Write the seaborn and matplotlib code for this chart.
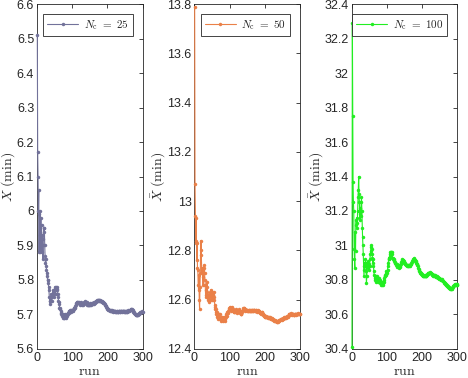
import numpy as np
import pandas as pd
import matplotlib
matplotlib.use("Agg")
import matplotlib.pyplot as plt
import seaborn as sns

# Running mean of completion time per run
xbar_25 = [
    6.51, 6.17, 6.10, 6.00, 6.06, 5.88, 5.99, 5.93, 6.00, 5.88,
    5.98, 5.92, 5.96, 5.88, 5.93, 5.90, 5.86, 5.92, 5.95, 5.94,
    5.95, 5.90, 5.87, 5.85, 5.86, 5.84, 5.83, 5.82, 5.81, 5.80,
    5.80, 5.79, 5.78, 5.77, 5.75, 5.74, 5.73, 5.74, 5.75, 5.76,
    5.75, 5.74, 5.76, 5.75, 5.77, 5.76, 5.75, 5.77, 5.76, 5.77,
    5.78, 5.77, 5.76, 5.78, 5.775, 5.78, 5.77, 5.775, 5.76, 5.75,
    5.74, 5.735, 5.73, 5.72, 5.72, 5.715, 5.71, 5.705, 5.70, 5.70,
    5.70, 5.695, 5.70, 5.69, 5.695, 5.69, 5.695, 5.69, 5.695, 5.70,
    5.695, 5.69, 5.695, 5.70, 5.695, 5.70, 5.705, 5.70, 5.705, 5.71,
    5.705, 5.71, 5.708, 5.712, 5.71, 5.708, 5.712, 5.71, 5.714, 5.712,
    5.71, 5.714, 5.712, 5.716, 5.72, 5.718, 5.722, 5.72, 5.725, 5.728,
    5.73, 5.733, 5.735, 5.732, 5.736, 5.734, 5.737, 5.735, 5.732, 5.734,
    5.73, 5.728, 5.732, 5.73, 5.733, 5.735, 5.731, 5.728, 5.73, 5.732,
    5.73, 5.728, 5.73, 5.733, 5.736, 5.738, 5.735, 5.737, 5.734, 5.732,
    5.735, 5.73, 5.728, 5.726, 5.728, 5.73, 5.728, 5.726, 5.73, 5.728,
    5.73, 5.732, 5.73, 5.728, 5.73, 5.732, 5.734, 5.73, 5.732, 5.733,
    5.731, 5.733, 5.735, 5.734, 5.736, 5.735, 5.737, 5.738, 5.74, 5.739,
    5.741, 5.742, 5.74, 5.743, 5.741, 5.74, 5.742, 5.741, 5.739, 5.74,
    5.738, 5.74, 5.739, 5.737, 5.738, 5.736, 5.737, 5.735, 5.733, 5.734,
    5.732, 5.73, 5.728, 5.727, 5.725, 5.723, 5.722, 5.72, 5.718, 5.717,
    5.716, 5.715, 5.714, 5.713, 5.714, 5.712, 5.713, 5.711, 5.712, 5.71,
    5.711, 5.712, 5.71, 5.709, 5.71, 5.708, 5.709, 5.71, 5.711, 5.709,
    5.708, 5.71, 5.709, 5.707, 5.708, 5.709, 5.71, 5.708, 5.706, 5.707,
    5.708, 5.71, 5.711, 5.709, 5.71, 5.708, 5.707, 5.709, 5.71, 5.711,
    5.71, 5.708, 5.709, 5.711, 5.71, 5.709, 5.708, 5.71, 5.709, 5.708,
    5.707, 5.709, 5.71, 5.708, 5.707, 5.708, 5.71, 5.709, 5.711, 5.712,
    5.71, 5.711, 5.713, 5.714, 5.713, 5.715, 5.714, 5.716, 5.715, 5.713,
    5.714, 5.712, 5.71, 5.708, 5.706, 5.704, 5.703, 5.702, 5.70, 5.699,
    5.698, 5.70, 5.699, 5.697, 5.698, 5.70, 5.699, 5.701, 5.70, 5.702,
    5.703, 5.704, 5.706, 5.705, 5.707, 5.706, 5.708, 5.707, 5.709, 5.708,
]

xbar_50 = [
    13.79, 13.07, 12.94, 12.83, 12.93, 12.84, 12.76, 12.83, 12.73, 12.72,
    12.66, 12.64, 12.70, 12.60, 12.56, 12.65, 12.71, 12.80, 12.84, 12.78,
    12.72, 12.71, 12.73, 12.69, 12.66, 12.72, 12.73, 12.74, 12.71, 12.68,
    12.66, 12.62, 12.64, 12.61, 12.63, 12.67, 12.65, 12.62, 12.60, 12.62,
    12.61, 12.59, 12.62, 12.60, 12.63, 12.62, 12.64, 12.62, 12.60, 12.61,
    12.63, 12.62, 12.60, 12.62, 12.63, 12.61, 12.60, 12.58, 12.57, 12.56,
    12.55, 12.56, 12.54, 12.53, 12.55, 12.54, 12.53, 12.52, 12.53, 12.54,
    12.53, 12.52, 12.53, 12.54, 12.52, 12.53, 12.515, 12.52, 12.53, 12.52,
    12.515, 12.52, 12.53, 12.525, 12.52, 12.515, 12.52, 12.525, 12.53, 12.535,
    12.54, 12.535, 12.545, 12.55, 12.545, 12.55, 12.555, 12.56, 12.565, 12.57,
    12.568, 12.565, 12.56, 12.555, 12.56, 12.565, 12.57, 12.567, 12.562, 12.558,
    12.555, 12.552, 12.55, 12.548, 12.55, 12.553, 12.556, 12.56, 12.558, 12.555,
    12.55, 12.545, 12.548, 12.552, 12.555, 12.558, 12.56, 12.556, 12.552, 12.548,
    12.545, 12.542, 12.54, 12.543, 12.548, 12.552, 12.556, 12.56, 12.565, 12.568,
    12.566, 12.563, 12.56, 12.557, 12.555, 12.556, 12.558, 12.556, 12.554, 12.556,
    12.557, 12.555, 12.553, 12.555, 12.557, 12.559, 12.557, 12.555, 12.553, 12.552,
    12.554, 12.556, 12.558, 12.556, 12.554, 12.552, 12.555, 12.557, 12.559, 12.558,
    12.556, 12.554, 12.553, 12.555, 12.557, 12.556, 12.554, 12.552, 12.551, 12.553,
    12.555, 12.556, 12.554, 12.552, 12.55, 12.548, 12.546, 12.545, 12.544, 12.543,
    12.55, 12.548, 12.545, 12.543, 12.54, 12.538, 12.536, 12.534, 12.532, 12.53,
    12.532, 12.53, 12.528, 12.53, 12.532, 12.53, 12.528, 12.527, 12.528, 12.53,
    12.529, 12.527, 12.525, 12.526, 12.528, 12.527, 12.525, 12.523, 12.522, 12.524,
    12.522, 12.52, 12.518, 12.52, 12.519, 12.517, 12.515, 12.516, 12.514, 12.513,
    12.512, 12.514, 12.513, 12.511, 12.51, 12.512, 12.511, 12.513, 12.515, 12.514,
    12.516, 12.518, 12.517, 12.519, 12.521, 12.52, 12.522, 12.52, 12.518, 12.52,
    12.522, 12.525, 12.523, 12.526, 12.528, 12.527, 12.529, 12.527, 12.525, 12.527,
    12.53, 12.532, 12.53, 12.528, 12.53, 12.533, 12.535, 12.538, 12.54, 12.542,
    12.54, 12.538, 12.54, 12.543, 12.545, 12.543, 12.54, 12.538, 12.54, 12.542,
    12.54, 12.538, 12.536, 12.538, 12.54, 12.542, 12.541, 12.539, 12.54, 12.542,
    12.543, 12.541, 12.54, 12.542, 12.544, 12.543, 12.541, 12.542, 12.54, 12.541,
]

xbar_100 = [
    30.41, 32.29, 31.75, 31.37, 31.25, 31.20, 30.98, 30.92, 30.87, 31.08,
    30.97, 31.12, 31.15, 31.10, 31.16, 31.13, 31.20, 31.28, 31.32, 31.40,
    31.30, 31.25, 31.18, 31.15, 31.22, 31.17, 31.25, 31.28, 31.20, 31.10,
    31.05, 31.00, 30.95, 30.88, 30.82, 30.86, 30.90, 30.88, 30.92, 30.90,
    30.85, 30.78, 30.82, 30.88, 30.90, 30.87, 30.91, 30.89, 30.88, 30.86,
    30.88, 30.92, 30.95, 30.97, 30.99, 31.00, 30.98, 30.95, 30.93, 30.90,
    30.92, 30.88, 30.85, 30.83, 30.82, 30.81, 30.80, 30.82, 30.80, 30.79,
    30.80, 30.82, 30.81, 30.80, 30.79, 30.80, 30.81, 30.80, 30.79, 30.78,
    30.80, 30.79, 30.78, 30.77, 30.78, 30.79, 30.77, 30.78, 30.77, 30.78,
    30.79, 30.80, 30.81, 30.82, 30.83, 30.82, 30.83, 30.84, 30.85, 30.84,
    30.85, 30.86, 30.88, 30.90, 30.92, 30.93, 30.92, 30.94, 30.95, 30.96,
    30.95, 30.96, 30.965, 30.96, 30.95, 30.93, 30.92, 30.925, 30.915, 30.92,
    30.91, 30.90, 30.905, 30.90, 30.895, 30.89, 30.885, 30.89, 30.88, 30.875,
    30.88, 30.885, 30.88, 30.875, 30.87, 30.875, 30.88, 30.885, 30.89, 30.90,
    30.905, 30.91, 30.915, 30.92, 30.918, 30.915, 30.912, 30.91, 30.905, 30.90,
    30.898, 30.895, 30.89, 30.888, 30.885, 30.888, 30.885, 30.882, 30.88, 30.883,
    30.885, 30.888, 30.885, 30.882, 30.88, 30.884, 30.888, 30.892, 30.895, 30.90,
    30.905, 30.91, 30.915, 30.918, 30.92, 30.923, 30.925, 30.922, 30.918, 30.915,
    30.912, 30.91, 30.905, 30.90, 30.895, 30.89, 30.885, 30.88, 30.872, 30.865,
    30.858, 30.852, 30.848, 30.845, 30.842, 30.84, 30.838, 30.835, 30.832, 30.83,
    30.828, 30.826, 30.825, 30.823, 30.822, 30.824, 30.826, 30.825, 30.822, 30.82,
    30.822, 30.825, 30.828, 30.83, 30.832, 30.835, 30.838, 30.84, 30.842, 30.84,
    30.838, 30.84, 30.843, 30.845, 30.842, 30.838, 30.835, 30.832, 30.83, 30.827,
    30.825, 30.828, 30.83, 30.826, 30.822, 30.82, 30.823, 30.826, 30.822, 30.818,
    30.815, 30.818, 30.82, 30.816, 30.812, 30.81, 30.813, 30.81, 30.806, 30.803,
    30.805, 30.808, 30.805, 30.80, 30.797, 30.80, 30.803, 30.80, 30.796, 30.792,
    30.79, 30.788, 30.785, 30.782, 30.78, 30.778, 30.775, 30.772, 30.77, 30.768,
    30.766, 30.764, 30.762, 30.76, 30.758, 30.757, 30.755, 30.754, 30.752, 30.75,
    30.752, 30.75, 30.748, 30.75, 30.752, 30.755, 30.758, 30.762, 30.766, 30.77,
    30.768, 30.772, 30.775, 30.772, 30.77, 30.773, 30.775, 30.772, 30.774, 30.772,
]

series = [xbar_25, xbar_50, xbar_100]
labels = [r'$N_\mathrm{c}\ =\ 25$', r'$N_\mathrm{c}\ =\ 50$', r'$N_\mathrm{c}\ =\ 100$']
colors = ['#72729a', '#ea8048', '#22ee22']
ylims = [(5.6, 6.6), (12.4, 13.8), (30.4, 32.4)]
yticks = [np.arange(5.6, 6.61, 0.1), np.arange(12.4, 13.81, 0.2), np.arange(30.4, 32.41, 0.2)]

sns.set_style('white')
plt.rcParams['font.family'] = ['Liberation Sans', 'DejaVu Sans']
plt.rcParams['mathtext.fontset'] = 'cm'

fig, axes = plt.subplots(1, 3, figsize=(4.68, 3.78), dpi=100)
fig.subplots_adjust(left=0.079, right=0.977, bottom=0.077, top=0.989, wspace=0.49)

for ax, vals, lab, col, yl, yt in zip(axes, series, labels, colors, ylims, yticks):
    df = pd.DataFrame({'run': np.arange(1, len(vals) + 1), 'xbar': vals})
    sns.lineplot(data=df, x='run', y='xbar', ax=ax, color=col, marker='o',
                 markersize=2.5, markeredgewidth=0, linewidth=0.8, label=lab,
                 zorder=3, clip_on=False)
    ax.set_xlim(0, 300)
    ax.set_ylim(*yl)
    ax.set_xticks([0, 100, 200, 300])
    ax.set_yticks(yt)
    ax.set_yticklabels([f'{v:g}' for v in np.round(yt, 1)])
    ax.set_xlabel(r'$\mathrm{run}$', fontsize=10, labelpad=0)
    ax.set_ylabel(r'$\bar{X}\ \mathrm{(min)}$', fontsize=10, labelpad=0)
    ax.tick_params(direction='in', length=3, width=0.6, labelsize=9,
                   top=True, right=True, colors='#262626', pad=2)
    for s in ax.spines.values():
        s.set_linewidth(0.6)
        s.set_color('#262626')
    leg = ax.legend(loc='upper right', fontsize=8, fancybox=False,
                    framealpha=1, edgecolor='#262626', handlelength=2.8,
                    handletextpad=0.5, borderpad=0.35, borderaxespad=0.9)
    leg.get_frame().set_linewidth(0.6)

fig.savefig('out.png', dpi=100)
